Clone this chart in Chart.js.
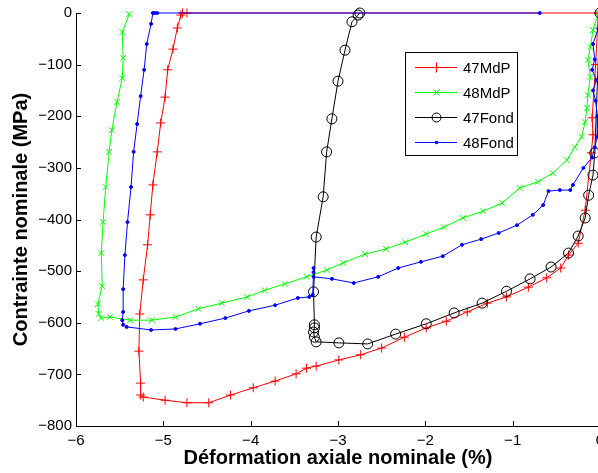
<!DOCTYPE html>
<html>
<head>
<meta charset="utf-8">
<script src="https://cdn.jsdelivr.net/npm/chart.js@4/dist/chart.umd.min.js"></script>
<style>
  html, body { margin: 0; padding: 0; background: #fff; overflow: hidden; }
  #wrap { width: 602px; height: 473px; }
</style>
</head>
<body>
<div id="wrap"><canvas id="chart" width="602" height="473"></canvas></div>
<script>
// axe x : deformation (%), axe y : contrainte (MPa)
const seriesNames = ['47MdP', '48MdP', '47Fond', '48Fond'];
const xTicks = [-6, -5, -4, -3, -2, -1, 0];
const yTicks = [0, -100, -200, -300, -400, -500, -600, -700, -800];

const mdp47X = [-0.02, -0.05, -0.09, -0.08, -0.10, -0.17, -0.25, -0.36, -0.45, -0.61, -0.82, -1.07, -1.29, -1.52, -1.76, -1.99, -2.24, -2.50, -2.74, -2.99, -3.25, -3.36, -3.48, -3.72, -3.97, -4.23, -4.48, -4.73, -4.98, -5.23, -5.26, -5.26, -5.28, -5.27, -5.23, -5.18, -5.15, -5.12, -5.07, -5.03, -4.98, -4.95, -4.89, -4.84, -4.80, -4.78, -4.73, 0];
const mdp47Y = [0, -100, -203, -236, -271, -382, -446, -469, -494, -513, -531, -550, -562, -579, -597, -610, -628, -649, -662, -672, -684, -688, -699, -713, -726, -740, -755, -755, -750, -744, -740, -717, -655, -583, -517, -449, -391, -333, -269, -213, -163, -110, -70, -29, -4, 0, 0, 0];

const mdp48X = [-0.02, -0.08, -0.11, -0.14, -0.11, -0.14, -0.15, -0.17, -0.21, -0.29, -0.38, -0.54, -0.71, -0.92, -1.12, -1.34, -1.57, -1.79, -1.99, -2.23, -2.45, -2.69, -2.94, -3.13, -3.36, -3.61, -3.84, -4.04, -4.33, -4.60, -4.86, -5.13, -5.38, -5.61, -5.71, -5.74, -5.75, -5.70, -5.71, -5.69, -5.66, -5.62, -5.59, -5.53, -5.47, -5.46, -5.47, -5.39];
const mdp48Y = [0, -33, -66, -91, -124, -159, -184, -211, -240, -260, -285, -310, -327, -339, -368, -384, -397, -415, -428, -444, -457, -467, -484, -498, -511, -525, -537, -550, -562, -573, -589, -595, -595, -589, -591, -583, -564, -529, -465, -405, -337, -269, -227, -172, -126, -87, -37, -2];

const fond47X = [0, -0.06, -0.08, -0.13, -0.17, -0.25, -0.36, -0.56, -0.80, -1.07, -1.35, -1.67, -1.99, -2.34, -2.66, -2.99, -3.25, -3.27, -3.28, -3.27, -3.27, -3.28, -3.25, -3.17, -3.13, -3.07, -3.00, -2.92, -2.84, -2.77, -2.75];
const fond47Y = [0, -271, -314, -353, -397, -432, -465, -492, -515, -539, -562, -581, -602, -622, -641, -639, -637, -628, -618, -610, -604, -540, -434, -356, -269, -205, -132, -72, -17, -4, 0];

const fond48X = [0, -0.02, -0.08, -0.06, -0.09, -0.04, -0.08, -0.05, -0.03, -0.03, -0.06, -0.09, -0.19, -0.31, -0.34, -0.46, -0.59, -0.65, -0.77, -0.95, -1.16, -1.36, -1.58, -1.80, -2.05, -2.31, -2.54, -2.82, -3.07, -3.28, -3.28, -3.28, -3.29, -3.33, -3.46, -3.72, -4.02, -4.29, -4.58, -4.86, -5.14, -5.42, -5.46, -5.47, -5.46, -5.46, -5.44, -5.41, -5.37, -5.34, -5.30, -5.26, -5.22, -5.19, -5.14, -5.12, -5.10, -5.07, -0.69];
const fond48Y = [0, -30, -60, -90, -110, -130, -150, -170, -200, -240, -260, -280, -300, -333, -343, -343, -345, -372, -391, -411, -426, -438, -449, -471, -482, -494, -511, -523, -515, -511, -494, -502, -546, -550, -552, -566, -577, -591, -602, -612, -614, -608, -604, -595, -579, -535, -469, -405, -337, -269, -215, -161, -110, -60, -21, 0, 0, 0, 0];

function pts(xs, ys) {
  return xs.map((x, i) => ({ x: x, y: ys[i] }));
}

const couleurs = ['#ff0000', '#00ff00', '#000000', '#0000ff'];
const styles = [
  { pointStyle: 'cross', pointRadius: 4.5, bg: '#ff0000' },
  { pointStyle: 'crossRot', pointRadius: 4, bg: '#00ff00' },
  { pointStyle: 'circle', pointRadius: 5, bg: 'rgba(0,0,0,0)' },
  { pointStyle: 'circle', pointRadius: 1.5, bg: '#0000ff' }
];
const donnees = [pts(mdp47X, mdp47Y), pts(mdp48X, mdp48Y), pts(fond47X, fond47Y), pts(fond48X, fond48Y)];

const police = "'Liberation Sans', Arial, Helvetica, sans-serif";
const moins = v => String(v).replace('-', '\u2212');

// legende dessinee dans la zone du graphe, comme matlab
const legendeBox = {
  id: 'legendeBox',
  afterDraw(chart) {
    const ctx = chart.ctx;
    ctx.save();
    ctx.fillStyle = '#fff';
    ctx.fillRect(405.5, 52.5, 112, 103);
    ctx.strokeStyle = '#000';
    ctx.lineWidth = 1;
    ctx.strokeRect(405.5, 52.5, 112, 103);
    chart.data.datasets.forEach((ds, i) => {
      const y = 67.5 + 25 * i;
      ctx.strokeStyle = ds.borderColor;
      ctx.lineWidth = 1;
      ctx.beginPath();
      ctx.moveTo(415, y);
      ctx.lineTo(457, y);
      ctx.stroke();
      const cx = 436.5;
      ctx.beginPath();
      if (i === 0) {
        ctx.moveTo(cx, y - 5); ctx.lineTo(cx, y + 5);
        ctx.stroke();
      } else if (i === 1) {
        ctx.moveTo(cx - 3, y - 3); ctx.lineTo(cx + 3, y + 3);
        ctx.moveTo(cx - 3, y + 3); ctx.lineTo(cx + 3, y - 3);
        ctx.stroke();
      } else if (i === 2) {
        ctx.arc(cx, y, 4.5, 0, Math.PI * 2);
        ctx.stroke();
      } else {
        ctx.fillStyle = ds.borderColor;
        ctx.arc(cx, y, 1.8, 0, Math.PI * 2);
        ctx.fill();
      }
      ctx.fillStyle = '#000';
      ctx.font = '15px ' + police;
      ctx.textBaseline = 'middle';
      ctx.textAlign = 'left';
      ctx.fillText(ds.label, 463, y + 1);
    });
    ctx.restore();
  }
};

// petites graduations vers l'interieur
const graduations = {
  id: 'graduations',
  afterDatasetsDraw(chart) {
    const ctx = chart.ctx;
    const xs = chart.scales.x, ys = chart.scales.y;
    const a = chart.chartArea;
    ctx.save();
    ctx.strokeStyle = '#000';
    ctx.lineWidth = 1;
    ctx.beginPath();
    xTicks.forEach(v => {
      const px = Math.round(xs.getPixelForValue(v)) + 0.5;
      ctx.moveTo(px, a.bottom);
      ctx.lineTo(px, a.bottom - 5);
    });
    yTicks.forEach(v => {
      const py = Math.round(ys.getPixelForValue(v)) + 0.5;
      ctx.moveTo(a.left, py);
      ctx.lineTo(a.left + 5, py);
    });
    ctx.stroke();
    ctx.restore();
  }
};

new Chart(document.getElementById('chart'), {
  type: 'scatter',
  data: {
    datasets: seriesNames.map((nom, i) => ({
      label: nom,
      data: donnees[i],
      showLine: true,
      borderColor: couleurs[i],
      borderWidth: 1,
      pointStyle: styles[i].pointStyle,
      pointRadius: styles[i].pointRadius,
      pointBorderWidth: 1,
      pointBorderColor: couleurs[i],
      pointBackgroundColor: styles[i].bg,
      pointHoverRadius: styles[i].pointRadius,
      clip: false,
      order: 4 - i
    }))
  },
  options: {
    responsive: false,
    animation: false,
    devicePixelRatio: 1,
    layout: { padding: { top: 13, right: 2, left: 0, bottom: 0 }, autoPadding: false },
    plugins: { legend: { display: false }, tooltip: { enabled: false } },
    scales: {
      x: {
        type: 'linear',
        min: -6, max: 0,
        afterBuildTicks: s => { s.ticks = xTicks.map(v => ({ value: v })); },
        afterFit: s => { s.height = 47; s.paddingLeft = 0; s.paddingRight = 0; },
        grid: { display: false, drawTicks: false, tickLength: 0 },
        border: { display: true, color: '#000', width: 1 },
        ticks: { color: '#000', padding: 6, font: { size: 15, family: police }, callback: moins, maxRotation: 0 },
        title: { display: true, text: 'Déformation axiale nominale (%)', color: '#000', font: { size: 20, weight: 'bold', family: police }, padding: { top: 0, bottom: 3 } }
      },
      y: {
        type: 'linear',
        min: -800, max: 0,
        afterBuildTicks: s => { s.ticks = yTicks.map(v => ({ value: v })); },
        afterFit: s => { s.width = 76; s.paddingTop = 0; s.paddingBottom = 0; },
        grid: { display: false, drawTicks: false, tickLength: 0 },
        border: { display: true, color: '#000', width: 1 },
        ticks: { color: '#000', padding: 4, font: { size: 15, family: police }, callback: moins },
        title: { display: true, text: 'Contrainte nominale (MPa)', color: '#000', font: { size: 20, weight: 'bold', family: police }, padding: { top: 9, bottom: 0 } }
      }
    }
  },
  plugins: [graduations, legendeBox]
});
</script>
</body>
</html>
